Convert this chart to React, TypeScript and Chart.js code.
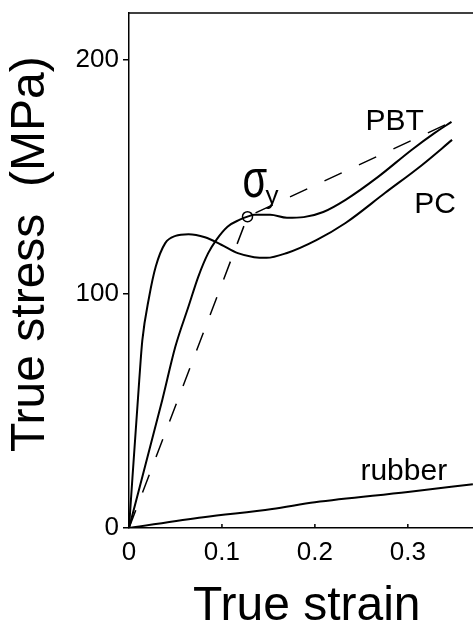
import React, { useEffect, useRef } from "react";
import { Chart, registerables } from "chart.js";

Chart.register(...registerables);

// ---- data (true strain, true stress in MPa) ----
const pcStrain = [0, 0.011, 0.0143, 0.0217, 0.0288, 0.039, 0.05, 0.064, 0.0817, 0.0993, 0.117, 0.1346, 0.148, 0.17, 0.2016, 0.233, 0.2757, 0.315, 0.3476];
const pcStress = [0, 63, 80, 98.8, 111.7, 121.7, 124.8, 125.5, 124.2, 121, 117.4, 115.7, 115.4, 117.5, 123, 130.3, 143.2, 155, 165.8];

const pbtStrain = [0, 0.0358, 0.0499, 0.064, 0.0746, 0.0852, 0.094, 0.1063, 0.1187, 0.1275, 0.135, 0.152, 0.17, 0.188, 0.209, 0.233, 0.268, 0.304, 0.329, 0.347];
const pbtStress = [0, 54.7, 77.5, 94.6, 107.4, 117.4, 123.1, 128.8, 131.6, 133, 133.8, 133.8, 132.5, 132.8, 135, 140.2, 150, 161.5, 168.8, 173.5];

const tangentStrain = [0, 0.1275, 0.3445];
const tangentStress = [0, 133, 173];

const rubberStrain = [0, 0.08, 0.154, 0.2, 0.3, 0.37];
const rubberStress = [0, 4.6, 8.1, 11, 15.4, 18.7];

const yieldStrain = [0.1275];
const yieldStress = [133];

const xTicks = [0, 0.1, 0.2, 0.3];
const yTicks = [0, 100, 200];

const labelTexts = ["PBT", "PC", "rubber"];
const labelStrain = [0.2545, 0.307, 0.249];
const labelStress = [170, 134.6, 20.5];

const xTitle = "True strain";
const yTitle = "True stress  (MPa)";

const FONT = "'Liberation Sans', Arial, Helvetica, sans-serif";

const toPoints = (xs: number[], ys: number[]) => xs.map((x, i) => ({ x, y: ys[i] }));

const overlay = {
  id: "overlay",
  afterDatasetsDraw(chart: any) {
    const { ctx, chartArea, scales } = chart;
    const x = scales.x;
    const y = scales.y;
    ctx.save();
    ctx.strokeStyle = "#000";
    ctx.lineWidth = 1.5;
    ctx.beginPath();
    ctx.moveTo(chartArea.left, chartArea.top);
    ctx.lineTo(chartArea.right, chartArea.top);
    ctx.stroke();
    ctx.beginPath();
    xTicks.forEach((v) => {
      if (v === 0) return;
      const px = x.getPixelForValue(v);
      ctx.moveTo(px, chartArea.bottom);
      ctx.lineTo(px, chartArea.bottom - 4);
    });
    ctx.stroke();

    ctx.fillStyle = "#000";
    ctx.textAlign = "left";
    ctx.textBaseline = "alphabetic";
    ctx.font = `30px ${FONT}`;
    labelTexts.forEach((t, i) => {
      ctx.fillText(t, x.getPixelForValue(labelStrain[i]), y.getPixelForValue(labelStress[i]));
    });

    // sigma_y
    const sx = x.getPixelForValue(0.122);
    const sy = y.getPixelForValue(141.5);
    ctx.save();
    ctx.translate(sx, sy);
    ctx.scale(1, 1.35);
    ctx.font = `40px ${FONT}`;
    ctx.fillText("σ", 0, 0);
    ctx.restore();
    ctx.font = `26px ${FONT}`;
    ctx.fillText("y", x.getPixelForValue(0.147), y.getPixelForValue(138.5));

    // y-axis title
    ctx.save();
    ctx.translate(31, y.getPixelForValue(117));
    ctx.rotate(-Math.PI / 2);
    ctx.textAlign = "center";
    ctx.textBaseline = "middle";
    ctx.font = `48px ${FONT}`;
    ctx.fillText(yTitle, 0, 0);
    ctx.restore();
    ctx.restore();
  },
};

export default function App() {
  const ref = useRef<HTMLCanvasElement | null>(null);

  useEffect(() => {
    if (!ref.current) return;
    const solid = {
      borderColor: "#000",
      borderWidth: 2,
      pointRadius: 0,
      showLine: true,
      fill: false,
      cubicInterpolationMode: "monotone" as const,
    };
    const chart = new Chart(ref.current, {
      type: "scatter",
      data: {
        datasets: [
          { ...solid, label: "PC", data: toPoints(pcStrain, pcStress) },
          { ...solid, label: "PBT", data: toPoints(pbtStrain, pbtStress) },
          { ...solid, label: "rubber", data: toPoints(rubberStrain, rubberStress) },
          {
            label: "tangent",
            data: toPoints(tangentStrain, tangentStress),
            borderColor: "#000",
            borderWidth: 1.5,
            borderDash: [19, 19],
            pointRadius: 0,
            showLine: true,
            tension: 0,
          },
          {
            label: "yield",
            data: toPoints(yieldStrain, yieldStress),
            showLine: false,
            pointRadius: 5,
            pointStyle: "circle",
            pointBorderColor: "#000",
            pointBackgroundColor: "rgba(0,0,0,0)",
            pointBorderWidth: 1.5,
          },
        ],
      },
      options: {
        responsive: false,
        animation: false,
        devicePixelRatio: 1,
        layout: { padding: { top: 13, right: 0, left: 0, bottom: 0 } },
        plugins: { legend: { display: false }, tooltip: { enabled: false } },
        scales: {
          x: {
            type: "linear",
            min: 0,
            max: 0.3825,
            afterBuildTicks: (axis: any) => {
              axis.ticks = xTicks.map((v) => ({ value: v }));
            },
            afterFit: (axis: any) => {
              axis.height = 103;
              axis.paddingLeft = 0;
              axis.paddingRight = 0;
            },
            ticks: {
              color: "#000",
              font: { family: FONT, size: 26 },
              padding: 9,
              maxRotation: 0,
              autoSkip: false,
              callback: (v: any) => (Number(v) === 0 ? "0" : Number(v).toFixed(1)),
            },
            grid: { display: false, drawTicks: false },
            border: { display: true, color: "#000", width: 1.5 },
            title: {
              display: true,
              text: xTitle,
              color: "#000",
              font: { family: FONT, size: 48, lineHeight: 1 },
              padding: { top: 0, bottom: 0 },
            },
          },
          y: {
            type: "linear",
            min: 0,
            max: 220,
            afterBuildTicks: (axis: any) => {
              axis.ticks = yTicks.map((v) => ({ value: v }));
            },
            afterFit: (axis: any) => {
              axis.width = 129;
              axis.paddingTop = 0;
              axis.paddingBottom = 0;
            },
            ticks: {
              color: "#000",
              font: { family: FONT, size: 26 },
              padding: 4,
              autoSkip: false,
            },
            grid: {
              display: true,
              drawOnChartArea: false,
              drawTicks: true,
              tickLength: 6,
              color: "#000",
              lineWidth: 1.5,
            },
            border: { display: true, color: "#000", width: 1.5 },
            title: { display: false },
          },
        },
      },
      plugins: [overlay],
    });
    return () => chart.destroy();
  }, []);

  return (
    <div style={{ position: "absolute", left: 0, top: 0, width: 473, height: 631, overflow: "hidden", background: "#fff" }}>
      <canvas ref={ref} width={491} height={631} style={{ display: "block", width: 491, height: 631 }} />
    </div>
  );
}
